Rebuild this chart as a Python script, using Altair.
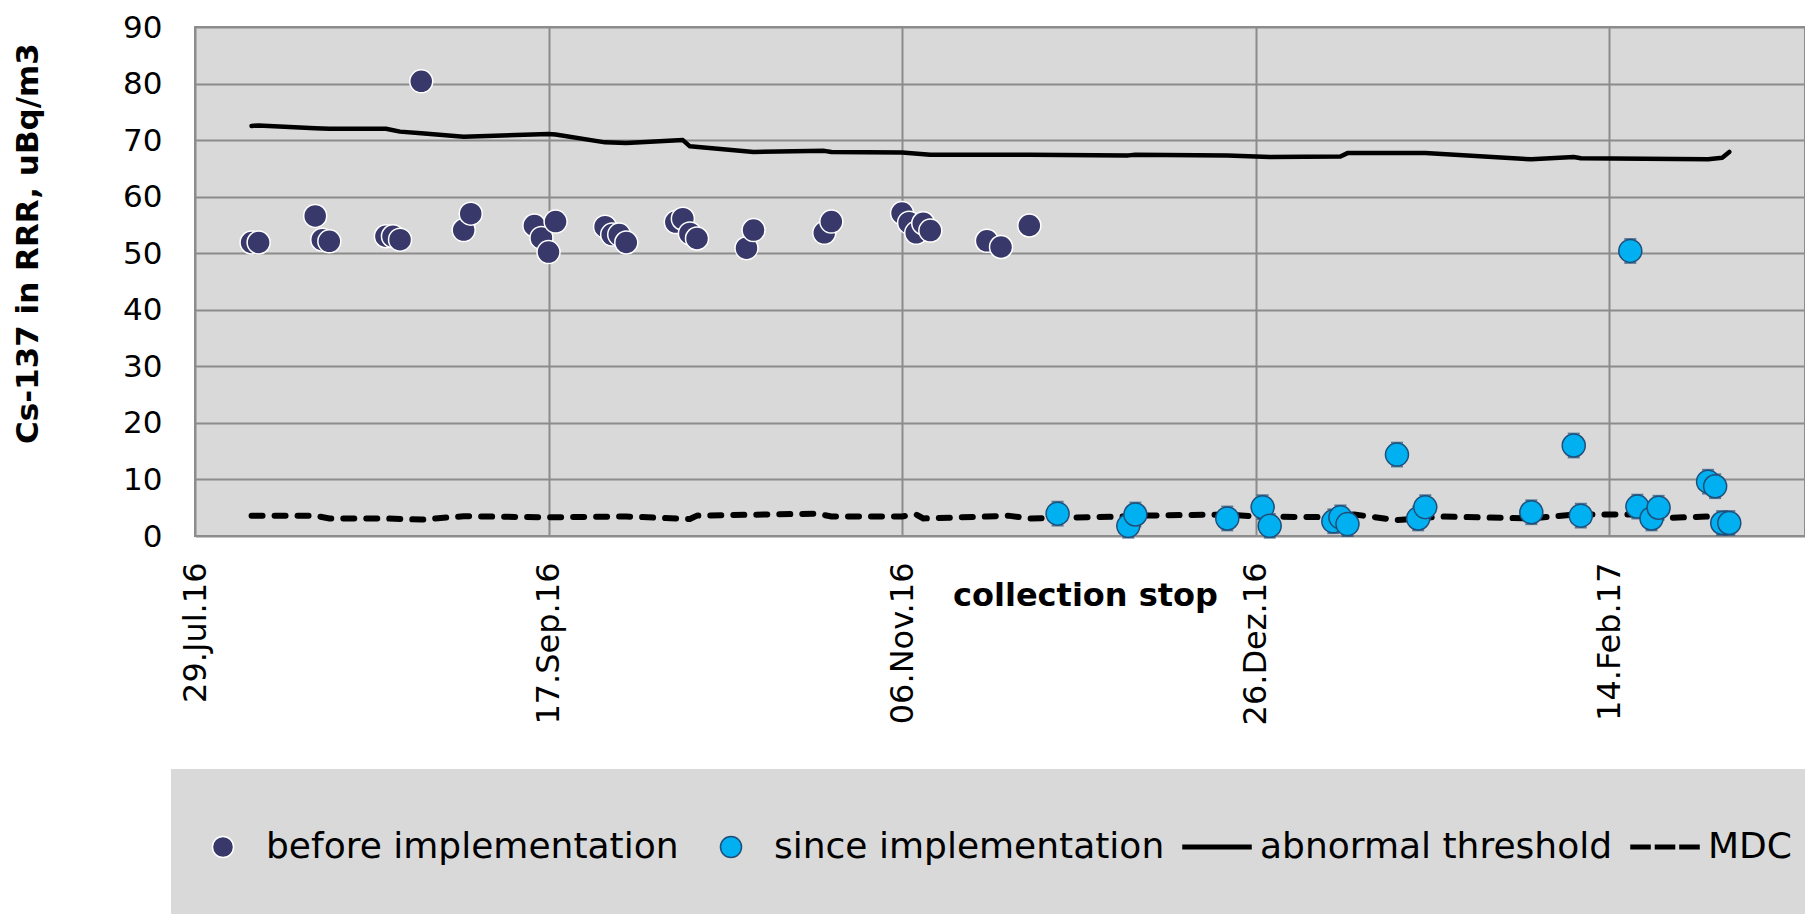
import altair as alt
import pandas as pd
from datetime import datetime, timezone

# ---------------- data ----------------
before_dates = ["2016-08-06", "2016-08-07", "2016-08-15", "2016-08-16", "2016-08-17",
                "2016-08-25", "2016-08-26", "2016-08-27", "2016-08-30", "2016-09-05",
                "2016-09-06", "2016-09-15", "2016-09-16", "2016-09-17", "2016-09-18",
                "2016-09-25", "2016-09-26", "2016-09-27", "2016-09-28", "2016-10-05",
                "2016-10-06", "2016-10-07", "2016-10-08", "2016-10-15", "2016-10-16",
                "2016-10-26", "2016-10-27", "2016-11-06", "2016-11-07", "2016-11-08",
                "2016-11-09", "2016-11-10", "2016-11-18", "2016-11-20", "2016-11-24"]
before_values = [51.9, 51.9, 56.6, 52.4, 52.1, 53.0, 53.0, 52.4, 80.4, 54.1,
                 57.0, 54.9, 52.7, 50.2, 55.6, 54.7, 53.3, 53.3, 51.9, 55.5,
                 56.1, 53.5, 52.6, 50.9, 54.1, 53.6, 55.6, 57.1, 55.4, 53.6,
                 55.3, 54.0, 52.2, 51.1, 54.9]

since_dates = ["2016-11-28", "2016-12-08", "2016-12-09", "2016-12-22", "2016-12-27",
               "2016-12-28", "2017-01-06", "2017-01-07", "2017-01-08", "2017-01-15",
               "2017-01-18", "2017-01-19", "2017-02-03", "2017-02-09", "2017-02-10",
               "2017-02-17", "2017-02-18", "2017-02-20", "2017-02-21", "2017-02-28",
               "2017-03-01", "2017-03-02", "2017-03-03"]
since_values = [3.95, 1.8, 3.8, 3.1, 5.1, 1.8, 2.6, 3.3, 2.1, 14.4,
                3.1, 5.1, 4.2, 16.0, 3.6, 50.4, 5.2, 3.1, 5.0, 9.6,
                8.8, 2.3, 2.3]
since_error = 2.1

threshold_dates = ["2016-08-06", "2016-08-07", "2016-08-15", "2016-08-17", "2016-08-25",
                   "2016-08-27", "2016-08-30", "2016-09-05", "2016-09-17", "2016-09-18",
                   "2016-09-25", "2016-09-28", "2016-10-06", "2016-10-07", "2016-10-16",
                   "2016-10-26", "2016-10-27", "2016-11-06", "2016-11-10", "2016-11-24",
                   "2016-12-08", "2016-12-09", "2016-12-22", "2016-12-28", "2017-01-07",
                   "2017-01-08", "2017-01-19", "2017-02-03", "2017-02-09", "2017-02-10",
                   "2017-02-28", "2017-03-02", "2017-03-03"]
threshold_values = [72.5, 72.6, 72.1, 72.0, 72.0, 71.5, 71.2, 70.6, 71.1, 71.0,
                    69.6, 69.5, 70.0, 68.9, 67.9, 68.1, 67.9, 67.8, 67.4, 67.4,
                    67.3, 67.4, 67.3, 67.0, 67.1, 67.7, 67.7, 66.6, 67.0, 66.8,
                    66.6, 66.9, 67.9]

mdc_dates = ["2016-08-06", "2016-08-15", "2016-08-17", "2016-08-25", "2016-08-30",
             "2016-09-05", "2016-09-17", "2016-09-27", "2016-09-28", "2016-10-07",
             "2016-10-08", "2016-10-25", "2016-10-27", "2016-11-06", "2016-11-08",
             "2016-11-09", "2016-11-18", "2016-11-21", "2016-11-24", "2016-12-08",
             "2016-12-09", "2016-12-22", "2016-12-26", "2017-01-07", "2017-01-09",
             "2017-01-15", "2017-01-18", "2017-01-21", "2017-02-03", "2017-02-09",
             "2017-02-18", "2017-02-20", "2017-02-28", "2017-03-03"]
mdc_values = [3.6, 3.6, 3.1, 3.1, 2.9, 3.5, 3.3, 3.45, 3.45, 3.0,
              3.6, 3.95, 3.45, 3.45, 3.8, 3.1, 3.45, 3.6, 3.1, 3.45,
              3.6, 3.8, 3.45, 3.3, 3.8, 2.8, 3.1, 3.45, 3.1, 3.8,
              3.8, 3.1, 3.45, 3.45]

tick_dates = ["2016-07-29", "2016-09-17", "2016-11-06", "2016-12-26", "2017-02-14"]
tick_labels = ["29.Jul.16", "17.Sep.16", "06.Nov.16", "26.Dez.16", "14.Feb.17"]
x_start = "2016-07-29T00:00:00"
x_end = "2017-03-13T17:00:00"

series_names = ["before implementation", "since implementation", "abnormal threshold", "MDC"]

# ---------------- styling ----------------
FONT = "DejaVu Sans"
NAVY = "#38386A"
CYAN = "#00B0F0"
DARKBLUE = "#1F4E79"
GRID = "#8C8C8C"

CIRCLE = ("M0.31,0C0.31,0.1712,0.1712,0.31,0,0.31C-0.1712,0.31,-0.31,0.1712,-0.31,0"
          "C-0.31,-0.1712,-0.1712,-0.31,0,-0.31C0.1712,-0.31,0.31,-0.1712,0.31,0Z")
SOLID = "M-1,-0.05L1,-0.05L1,0.05L-1,0.05Z"
DASHED = ("M-1,-0.05L-0.44,-0.05L-0.44,0.05L-1,0.05Z"
          "M-0.28,-0.05L0.28,-0.05L0.28,0.05L-0.28,0.05Z"
          "M0.44,-0.05L1,-0.05L1,0.05L0.44,0.05Z")


def ms(s):
    return int(datetime.fromisoformat(s).replace(tzinfo=timezone.utc).timestamp() * 1000)


pts = pd.DataFrame({
    "date": before_dates + since_dates,
    "value": before_values + since_values,
    "series": [series_names[0]] * len(before_dates) + [series_names[1]] * len(since_dates),
})
since_df = pd.DataFrame({"date": since_dates, "value": since_values})
thr_df = pd.DataFrame({"date": threshold_dates, "value": threshold_values})
mdc_df = pd.DataFrame({"date": mdc_dates, "value": mdc_values})

tick_ms = [ms(d) for d in tick_dates]
label_expr = "".join(f"time(datum.value) == {t} ? '{l}' : " for t, l in zip(tick_ms, tick_labels)) + "''"

x_scale = alt.Scale(type="utc", domain=[ms(x_start), ms(x_end)])
y_scale = alt.Scale(domain=[0, 90], nice=False)

x_axis = alt.Axis(values=tick_ms, labelExpr=label_expr, labelAngle=270, labelFont=FONT,
                  labelFontSize=32, labelColor="black", labelPadding=26, tickSize=0,
                  ticks=False, domain=False, grid=True, labelFlush=False, labelOverlap=False,
                  title="collection stop", titleFont=FONT, titleFontSize=32,
                  titleFontWeight="bold", titleColor="black", titleX=890, titleY=59,
                  titleAngle=0, titleAlign="center", titleBaseline="middle")
y_axis = alt.Axis(values=list(range(0, 91, 10)), labelFont=FONT, labelFontSize=31,
                  labelOffset=1, labelColor="black", labelPadding=33, tickSize=0,
                  ticks=False, domain=False, grid=True,
                  title="Cs-137 in RRR, uBq/m3", titleFont=FONT, titleFontSize=31,
                  titleFontWeight="bold", titleColor="black", titleAngle=270,
                  titleX=-167, titleY=216, titleAlign="center", titleBaseline="middle")

X = alt.X("date:T", scale=x_scale, axis=x_axis)
Y = alt.Y("value:Q", scale=y_scale, axis=y_axis)
Xn = alt.X("date:T", scale=x_scale)
Yn = alt.Y("value:Q", scale=y_scale)

legend = alt.Legend(title=None, orient="none", clipHeight=122,
                    legendX=-24, legendY=742, direction="horizontal", columns=4,
                    fillColor="#D9D9D9", padding=17, symbolSize=4624,
                    symbolStrokeWidth=1.5, symbolOpacity=1, labelFont=FONT,
                    labelFontSize=36, labelColor="black", labelOffset=8, labelLimit=0,
                    columnPadding=17)

thr_line = alt.Chart(thr_df).mark_line(color="black", strokeWidth=4.5, strokeCap="round",
                                       strokeJoin="round").encode(x=X, y=Y)
mdc_line = alt.Chart(mdc_df).mark_line(color="black", strokeWidth=6, strokeCap="round",
                                       strokeDash=[11, 12]).encode(x=Xn, y=Yn)

err_lo = alt.Chart(since_df).transform_calculate(
    lo=f"datum.value - {since_error}").mark_tick(
    orient="horizontal", color=DARKBLUE, thickness=2, size=12).encode(
    x=Xn, y=alt.Y("lo:Q", scale=y_scale))
err_hi = alt.Chart(since_df).transform_calculate(
    hi=f"datum.value + {since_error}").mark_tick(
    orient="horizontal", color=DARKBLUE, thickness=2, size=12).encode(
    x=Xn, y=alt.Y("hi:Q", scale=y_scale))

points = alt.Chart(pts).mark_point(filled=True, size=5505, strokeWidth=1.5, opacity=1).encode(
    x=Xn, y=Yn,
    fill=alt.Fill("series:N", scale=alt.Scale(domain=series_names,
                                               range=[NAVY, CYAN, "black", "black"]),
                  legend=legend),
    stroke=alt.Stroke("series:N", scale=alt.Scale(domain=series_names,
                                                   range=["white", DARKBLUE, "black", "black"]),
                      legend=legend),
    shape=alt.Shape("series:N", scale=alt.Scale(domain=series_names,
                                                 range=[CIRCLE, CIRCLE, SOLID, DASHED]),
                    legend=legend),
)

chart = alt.layer(thr_line, mdc_line, err_lo, err_hi, points).properties(
    width=1610, height=509,
    autosize=alt.AutoSizeParams(type="none"),
    padding={"left": 187, "top": 19, "right": 0, "bottom": 378},
).configure_view(
    fill="#D9D9D9", stroke=GRID, strokeWidth=2
).configure_axis(
    gridColor=GRID, gridWidth=2, gridOpacity=1
)

chart.save("out.html", embed_options={"renderer": "svg", "actions": False})
